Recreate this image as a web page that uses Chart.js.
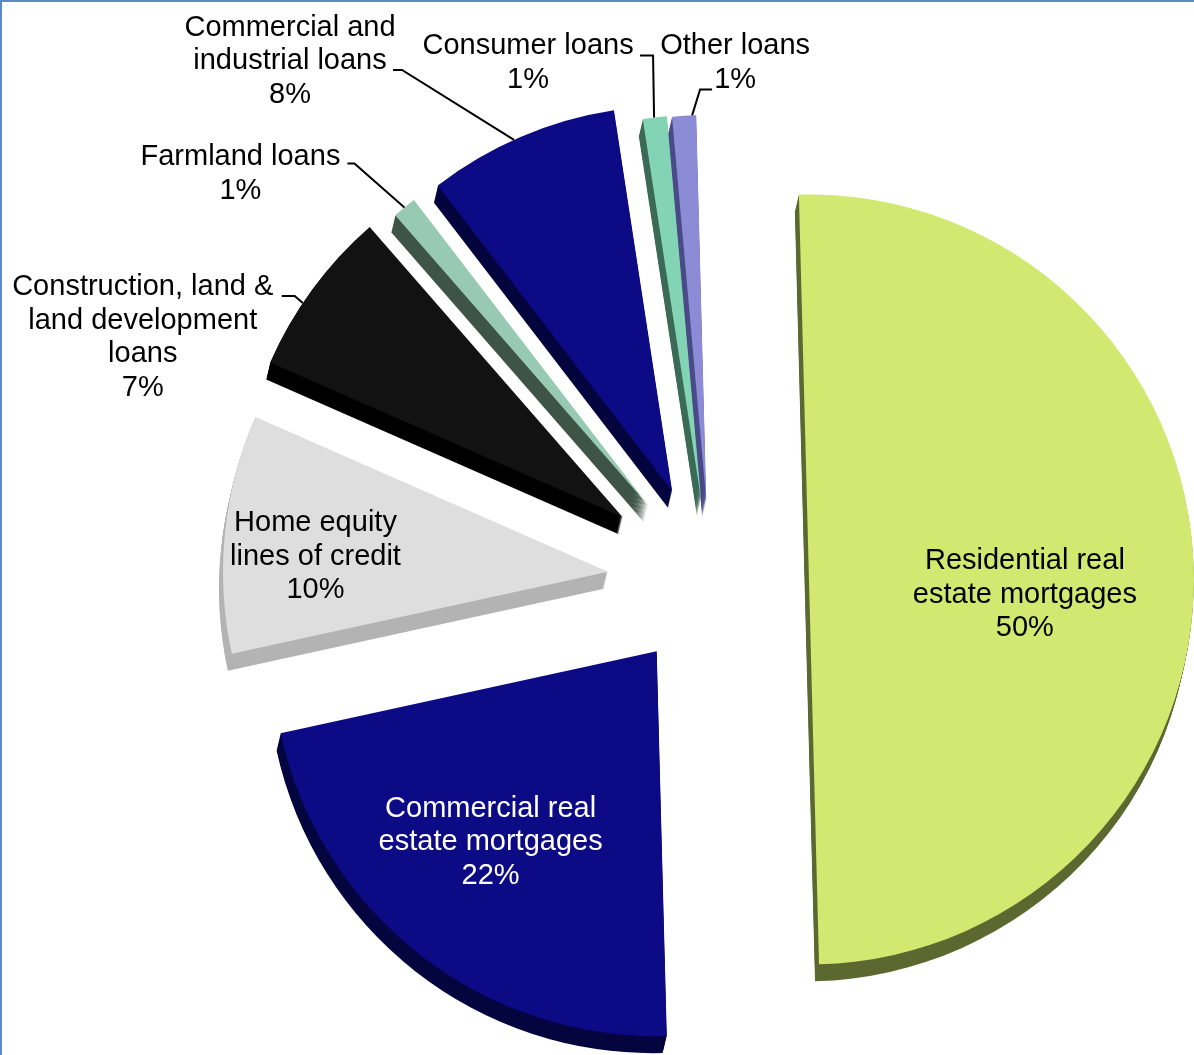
<!DOCTYPE html>
<html lang="en">
<head>
  <meta charset="UTF-8">
  <title>Loan portfolio by type</title>
  <script src="https://cdn.jsdelivr.net/npm/chart.js"></script>
  <style>
    html, body {
      margin: 0;
      padding: 0;
      background: #fff;
    }
    #wrap {
      position: relative;
      width: 1194px;
      height: 1055px;
      overflow: hidden;
    }
    #wrap canvas {
      position: absolute;
      left: 0;
      top: 0;
    }
    /* thin frame on the top and left edges */
    #frame {
      position: absolute;
      left: 0;
      top: 0;
      right: 0;
      bottom: 0;
      border-top: 2px solid #5b8ac6;
      border-left: 2px solid #5b8ac6;
      pointer-events: none;
    }
  </style>
</head>
<body>
  <div id="wrap">
    <canvas id="loanPie" width="1194" height="1055"></canvas>
    <div id="frame"></div>
  </div>

  <script>
    // Loan categories, clockwise from 12 o'clock
    const categories = [
      'Residential real estate mortgages',
      'Commercial real estate mortgages',
      'Home equity lines of credit',
      'Construction, land & land development loans',
      'Farmland loans',
      'Commercial and industrial loans',
      'Consumer loans',
      'Other loans'
    ];
    // Share of the total, in percent
    const shares = [50, 22, 10, 7, 1, 8, 1, 1];
    // How each category name is broken over lines in its label
    const nameLines = [
      ['Residential real', 'estate mortgages'],
      ['Commercial real', 'estate mortgages'],
      ['Home equity', 'lines of credit'],
      ['Construction, land &', 'land development', 'loans'],
      ['Farmland loans'],
      ['Commercial and', 'industrial loans'],
      ['Consumer loans'],
      ['Other loans']
    ];

    // top face and side face colours
    const topColors  = ['#d2e870', '#0c0a85', '#dedede', '#121212', '#98c9b2', '#0c0a85', '#82d4b4', '#8c8cd6'];
    const sideColors = ['#5b6930', '#04043f', '#b3b3b3', '#000000', '#3d5446', '#03033d', '#3b6a56', '#4a4a88'];
    // how far each slice is pulled out from the centre (px)
    const explode = [98, 88, 103.5, 109.5, 99, 99, 83, 82];

    const DEPTH = 17;     // thickness of the pie
    const SKEW = -4;      // sideways lean of the thickness
    const FONT = '29px "Liberation Sans", Arial, sans-serif';
    const LINE_H = 33.5;

    // label placement: inside labels sit on the slice bisector,
    // outside labels hang off a leader line that starts on the rim
    const labelPlace = [
      { inside: true, r: 0.561, dx: 0, dy: 21, color: '#000' },
      { inside: true, r: 0.657, dx: -10, dy: -8, color: '#fff' },
      { inside: true, r: 0.761, dx: -1, dy: 14, color: '#000' },
      { frac: 0.40, tx: -160, ty: -16, ex: -8, ey: -7, tail: 13 },
      { frac: 0.5, tx: -164, ty: -50, ex: -50, ey: -44, tail: 7 },
      { frac: 0.46, tx: -224, ty: -112, ex: -112, ey: -70, tail: 9 },
      { frac: 0.47, tx: -126, ty: -71, ex: -1, ey: -62, tail: 13 },
      { frac: 0.83, tx: 43, ty: -69, ex: 8, ey: -26, tail: -12 }
    ];

    // Arc that is pushed straight out along its bisector (the stock
    // "offset" also grows the radius, which we don't want here)
    class SolidArc extends Chart.ArcElement {
      static id = 'solidArc';
      static defaults = { explode: 0 };
      draw(ctx) {
        const d = this.options.explode || 0;
        const mid = (this.startAngle + this.endAngle) / 2;
        ctx.save();
        ctx.translate(Math.cos(mid) * d, Math.sin(mid) * d);
        super.draw(ctx);
        ctx.restore();
      }
    }

    class ExplodedPie extends Chart.PieController {
      static id = 'explodedPie';
      static defaults = { dataElementType: 'solidArc' };
    }

    Chart.register(SolidArc, ExplodedPie);

    // apex, radius and angles of an arc as it is drawn
    function sliceGeom(arc) {
      const p = arc.getProps(['x', 'y', 'startAngle', 'endAngle', 'outerRadius']);
      const d = arc.options.explode || 0;
      const mid = (p.startAngle + p.endAngle) / 2;
      return {
        ax: p.x + Math.cos(mid) * d,
        ay: p.y + Math.sin(mid) * d,
        r: p.outerRadius,
        start: p.startAngle,
        end: p.endAngle,
        mid: mid
      };
    }

    // sides of the slices, drawn under the top faces
    const depthPlugin = {
      id: 'pieDepth',
      beforeDatasetsDraw(chart) {
        const ctx = chart.ctx;
        const arcs = chart.getDatasetMeta(0).data;
        ctx.save();
        arcs.forEach((arc, i) => {
          const g = sliceGeom(arc);
          ctx.fillStyle = sideColors[i];
          for (let k = 1; k <= DEPTH; k++) {
            const sx = SKEW * k / DEPTH;
            ctx.beginPath();
            ctx.moveTo(g.ax + sx, g.ay + k);
            ctx.arc(g.ax + sx, g.ay + k, g.r, g.start, g.end);
            ctx.closePath();
            ctx.fill();
          }
        });
        ctx.restore();
      }
    };

    // category name + percentage, with leader lines for the thin slices
    const labelPlugin = {
      id: 'sliceLabels',
      afterDatasetsDraw(chart) {
        const ctx = chart.ctx;
        const arcs = chart.getDatasetMeta(0).data;
        ctx.save();
        ctx.font = FONT;
        ctx.textAlign = 'center';
        ctx.textBaseline = 'middle';
        arcs.forEach((arc, i) => {
          const g = sliceGeom(arc);
          const pl = labelPlace[i];
          const lines = nameLines[i].concat([shares[i] + '%']);
          if (pl.inside) {
            const cx = g.ax + Math.cos(g.mid) * g.r * pl.r + pl.dx;
            const cy = g.ay + Math.sin(g.mid) * g.r * pl.r + pl.dy;
            const y0 = cy - (lines.length - 1) * LINE_H / 2;
            ctx.fillStyle = pl.color;
            lines.forEach((t, k) => ctx.fillText(t, cx, y0 + k * LINE_H));
          } else {
            const a = g.start + (g.end - g.start) * pl.frac;
            const px = g.ax + Math.cos(a) * g.r;
            const py = g.ay + Math.sin(a) * g.r;
            const ex = px + pl.ex, ey = py + pl.ey;
            ctx.strokeStyle = '#000';
            ctx.lineWidth = 2;
            ctx.beginPath();
            ctx.moveTo(px, py);
            ctx.lineTo(ex, ey);
            ctx.lineTo(ex - pl.tail, ey);
            ctx.stroke();
            ctx.fillStyle = '#000';
            lines.forEach((t, k) => ctx.fillText(t, px + pl.tx, py + pl.ty + k * LINE_H));
          }
        });
        ctx.restore();
      }
    };

    const ctx = document.getElementById('loanPie').getContext('2d');
    const loanPie = new Chart(ctx, {
      type: 'explodedPie',
      data: {
        labels: categories,
        datasets: [{
          data: shares,
          backgroundColor: topColors,
          borderWidth: 0,
          explode: explode,
          offset: 0,
          hoverOffset: 0,
          clip: false
        }]
      },
      options: {
        responsive: false,
        animation: false,
        events: [],
        radius: 385,
        rotation: -1.5,
        layout: {
          padding: { left: 228, right: 0, top: 109, bottom: 0 }
        },
        plugins: {
          legend: { display: false },
          tooltip: { enabled: false }
        }
      },
      plugins: [depthPlugin, labelPlugin]
    });
  </script>
</body>
</html>
